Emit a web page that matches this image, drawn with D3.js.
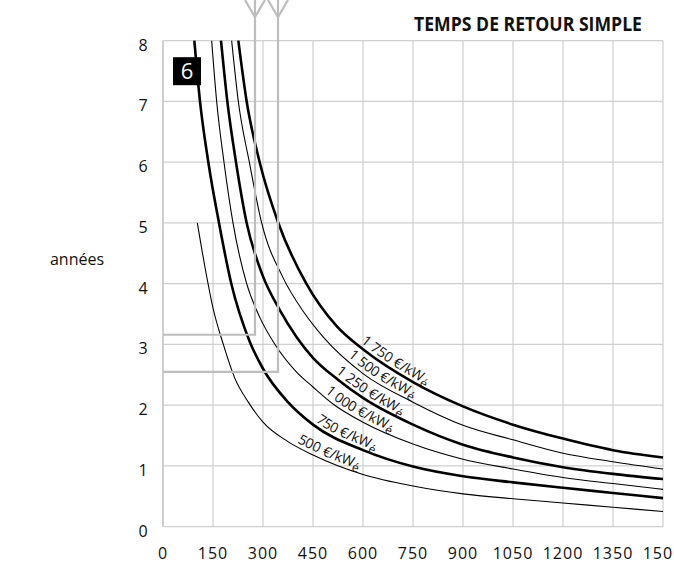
<!DOCTYPE html>
<html>
<head>
<meta charset="utf-8">
<script src="https://cdn.jsdelivr.net/npm/d3@7"></script>
<style>
  body { margin: 0; background: #fff; }
  svg { display: block; font-family: "Open Sans", sans-serif; }
</style>
</head>
<body>
<div class="chart"></div>
<script>
// Values (x = hours, y = years)

const costs = [500, 750, 1000, 1250, 1500, 1750];

const curve500 = [[103, 5.0], [125, 4.3], [150, 3.6], [181, 3.0], [215, 2.45], [256, 2.05], [300, 1.72], [375, 1.4], [450, 1.18], [600, 0.86], [750, 0.67], [900, 0.54], [1050, 0.46], [1200, 0.39], [1350, 0.32], [1500, 0.25]];
const curve750 = [[94, 8], [111, 7], [136, 6], [168, 5], [205, 4], [260, 3.05], [300, 2.6], [375, 2.05], [450, 1.68], [600, 1.26], [750, 0.99], [900, 0.83], [1050, 0.73], [1200, 0.64], [1350, 0.555], [1500, 0.47]];
const curve1000 = [[146, 8], [161, 7], [183, 6], [210, 5], [251, 4], [290, 3.45], [336, 3], [400, 2.55], [450, 2.3], [510, 2.02], [600, 1.72], [750, 1.36], [900, 1.11], [1050, 0.95], [1200, 0.81], [1350, 0.71], [1500, 0.615]];
const curve1250 = [[174, 8], [193, 7], [219, 6], [251, 5], [298, 4.15], [350, 3.57], [401, 3.12], [450, 2.78], [525, 2.42], [600, 2.12], [750, 1.68], [900, 1.35], [1050, 1.14], [1200, 0.98], [1350, 0.87], [1500, 0.785]];
const curve1500 = [[206, 8], [226, 7], [259, 6], [296, 5], [360, 4.1], [420, 3.55], [481, 3.12], [600, 2.52], [750, 2.05], [900, 1.67], [1050, 1.43], [1200, 1.21], [1350, 1.07], [1500, 0.95]];
const curve1750 = [[226, 8], [251, 7], [290, 6], [346, 5], [430, 4], [521, 3.3], [600, 2.92], [750, 2.38], [900, 1.98], [1050, 1.68], [1200, 1.45], [1350, 1.26], [1500, 1.14]];

const curves = [curve500, curve750, curve1000, curve1250, curve1500, curve1750];

// where each curve label starts (x value along its curve)
const labelStartX = [396, 450, 477, 510, 546, 585];

const xTicks = [0, 150, 300, 450, 600, 750, 900, 1050, 1200, 1350, 1500];
const yTicks = [0, 1, 2, 3, 4, 5, 6, 7, 8];

// the two grey reading lines
const readX = [276, 345];
const readY = [3.16, 2.55];

// Measurements

const width = 674;
const height = 568;
const margin = { top: 40.7, right: 11, bottom: 41.3, left: 163 };
const w = width - margin.left - margin.right;
const h = height - margin.top - margin.bottom;
const gridColor = "#cfcfcf";
const readColor = "#bdbdbd";

const svg = d3
  .select(".chart")
  .append("svg")
  .attr("width", width)
  .attr("height", height);

const g = svg
  .append("g")
  .attr("transform", `translate(${margin.left}, ${margin.top})`);

// Scales

const xScale = d3.scaleLinear().domain([0, 1500]).range([0, w]);
const yScale = d3.scaleLinear().domain([0, 8]).range([h, 0]);

// Grid

g.append("g")
  .selectAll("line")
  .data(xTicks)
  .join("line")
  .attr("x1", (d) => xScale(d))
  .attr("x2", (d) => xScale(d))
  .attr("y1", h)
  .attr("y2", (d) => (d === 150 ? yScale(5) : 0))
  .attr("stroke", gridColor)
  .attr("stroke-width", (d) => (d === 0 ? 2 : 1.2));

g.append("g")
  .selectAll("line")
  .data(yTicks)
  .join("line")
  .attr("x1", 0)
  .attr("x2", w)
  .attr("y1", (d) => yScale(d))
  .attr("y2", (d) => yScale(d))
  .attr("stroke", gridColor)
  .attr("stroke-width", 1.2);

// Tick labels

g.append("g")
  .selectAll("text")
  .data(yTicks)
  .join("text")
  .attr("x", -20)
  .attr("y", (d) => yScale(d) + 10)
  .attr("text-anchor", "middle")
  .attr("font-size", 16)
  .attr("fill", "#111")
  .text((d) => d);

g.append("g")
  .selectAll("text")
  .data(xTicks)
  .join("text")
  .attr("x", (d) => xScale(d))
  .attr("y", h + 32)
  .attr("text-anchor", "middle")
  .attr("font-size", 16)
  .attr("letter-spacing", 1)
  .attr("fill", "#111")
  .text((d) => d);

svg
  .append("text")
  .attr("x", 77)
  .attr("y", 265)
  .attr("text-anchor", "middle")
  .attr("font-size", 16)
  .attr("fill", "#111")
  .text("années");

// Grey reading lines with arrow tails at the top

const reads = readX.map((x, i) => ({ x: x, y: readY[i] }));

const readG = svg
  .append("g")
  .attr("fill", "none")
  .attr("stroke", readColor)
  .attr("stroke-width", 2.2);

readG
  .selectAll("polyline.read")
  .data(reads)
  .join("polyline")
  .attr("class", "read")
  .attr("points", (d) => {
    const px = margin.left + xScale(d.x);
    const py = margin.top + yScale(d.y);
    return `${px},0 ${px},${py} ${margin.left},${py}`;
  });

readG
  .selectAll("polyline.head")
  .data(reads)
  .join("polyline")
  .attr("class", "head")
  .attr("points", (d) => {
    const px = margin.left + xScale(d.x);
    return `${px - 10},0 ${px},17 ${px + 10},0`;
  });

// Curves

const line = d3
  .line()
  .x((d) => xScale(d[0]))
  .y((d) => yScale(d[1]))
  .curve(d3.curveMonotoneX);

const paths = g
  .append("g")
  .selectAll("path")
  .data(curves)
  .join("path")
  .attr("id", (d, i) => "curve" + costs[i])
  .attr("d", line)
  .attr("fill", "none")
  .attr("stroke", "#000")
  .attr("stroke-width", (d, i) => (i % 2 === 1 ? 2.6 : 1.1));

// Curve labels, written along each curve

paths.each(function (d, i) {
  const target = xScale(labelStartX[i]);
  const total = this.getTotalLength();
  let lo = 0;
  let hi = total;
  for (let k = 0; k < 40; k++) {
    const mid = (lo + hi) / 2;
    if (this.getPointAtLength(mid).x < target) lo = mid;
    else hi = mid;
  }

  const tp = g
    .append("text")
    .attr("font-size", 14)
    .attr("fill", "#111")
    .append("textPath")
    .attr("href", "#curve" + costs[i])
    .attr("startOffset", lo);

  tp.append("tspan")
    .attr("dy", -4)
    .text(d3.format(",")(costs[i]).replace(",", " ") + " €/kW");
  tp.append("tspan").attr("dy", 4).attr("font-size", 12).text("é");
});

// Frame number box

g.append("rect")
  .attr("x", 10)
  .attr("y", 16.5)
  .attr("width", 28)
  .attr("height", 28)
  .attr("fill", "#000");

g.append("text")
  .attr("x", 24)
  .attr("y", 38.5)
  .attr("text-anchor", "middle")
  .attr("font-size", 22)
  .attr("fill", "#fff")
  .text("6");

// Title

svg
  .append("text")
  .attr("x", 642)
  .attr("y", 31)
  .attr("text-anchor", "end")
  .attr("font-weight", "bold")
  .attr("font-size", 19)
  .attr("textLength", 228)
  .attr("lengthAdjust", "spacingAndGlyphs")
  .attr("fill", "#111")
  .text("TEMPS DE RETOUR SIMPLE");
</script>
</body>
</html>
